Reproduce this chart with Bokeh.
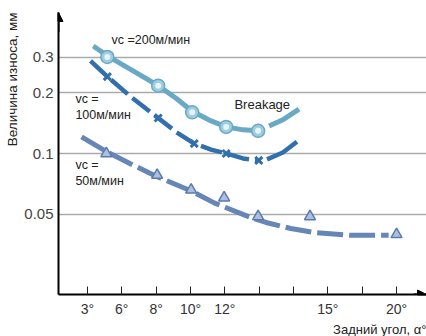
from bokeh.plotting import figure
from bokeh.models import Range1d, FixedTicker, Label, Arrow, NormalHead, Title
from bokeh.embed import file_html
from bokeh.resources import INLINE

# ---- data (x in tick-index units; tick i carries tick_labels[i]) ----
tick_pos = [0, 1, 2, 3, 4, 5, 6, 7, 8, 9]
tick_labels = ["3°", "6°", "8°", "10°", "12°", "", "", "15°", "", "20°"]
y_ticks = [0.05, 0.1, 0.2, 0.3, 0.5]
y_tick_labels = ["0.05", "0.1", "0.2", "0.3", ""]

# vc = 200 m/min (circles)
x200 = [0.58, 2.06, 3.05, 4.04, 4.97]
y200 = [0.301, 0.217, 0.160, 0.1355, 0.1295]
cx200 = [0.17, 0.58, 1.28, 2.06, 2.58, 3.05, 3.60, 4.04, 4.53, 4.97]
cy200 = [0.341, 0.305, 0.260, 0.217, 0.188, 0.162, 0.145, 0.1355, 0.131, 0.1295]
bx200 = [5.29, 5.72, 6.16]
by200 = [0.137, 0.148, 0.166]

# vc = 100 m/min (crosses)
x100 = [0.58, 2.06, 3.11, 4.04, 4.99]
y100 = [0.2405, 0.150, 0.112, 0.100, 0.0924]
cx100 = [0.09, 0.58, 1.28, 2.06, 2.58, 3.11, 3.60, 4.04, 4.53, 4.99]
cy100 = [0.288, 0.2405, 0.190, 0.150, 0.128, 0.112, 0.1046, 0.100, 0.0945, 0.0924]
bx100 = [5.23, 5.69, 6.10]
by100 = [0.0935, 0.1011, 0.1144]

# vc = 50 m/min (triangles)
x50 = [0.55, 2.03, 3.02, 3.98, 4.97, 6.48, 9.00]
y50 = [0.100, 0.0781, 0.0660, 0.0603, 0.0487, 0.0487, 0.0397]
cx50 = [-0.17, 0.55, 1.28, 2.00, 3.02, 3.69, 4.76, 5.20, 5.92, 6.59, 7.67, 8.77]
cy50 = [0.121, 0.1023, 0.0884, 0.0772, 0.0652, 0.0569, 0.0481, 0.0455, 0.0425, 0.0406, 0.0393, 0.0393]

x_lo, x_hi = -0.842, 9.872
y_lo, y_hi = 0.02, 0.5

c200 = "#6aa9c5"
c100 = "#3270ad"
c50 = "#6686b6"
FONT = "Liberation Sans"

p = figure(width=426, height=336, output_backend="svg", toolbar_location=None,
           y_axis_type="log", x_range=Range1d(x_lo, x_hi), y_range=Range1d(y_lo, y_hi),
           min_border_left=0, min_border_right=0, min_border_top=12, min_border_bottom=0)
p.outline_line_color = None
p.background_fill_color = "white"
p.border_fill_color = "white"

# axes
p.xaxis.ticker = FixedTicker(ticks=tick_pos)
p.xaxis.major_label_overrides = {t: l for t, l in zip(tick_pos, tick_labels)}
p.xaxis.major_tick_in = 8
p.xaxis.major_tick_out = 0
p.xaxis.minor_tick_line_color = None
p.xaxis.axis_line_width = 2
p.xaxis.axis_line_color = "black"
p.xaxis.major_tick_line_color = "#222"
p.xaxis.major_label_standoff = 6
p.xaxis.major_label_text_font = FONT
p.xaxis.major_label_text_font_size = "14px"
p.xaxis.major_label_text_color = "#333"

p.yaxis.ticker = FixedTicker(ticks=y_ticks)
p.yaxis.major_label_overrides = {t: l for t, l in zip(y_ticks, y_tick_labels)}
p.yaxis.major_tick_in = 0
p.yaxis.major_tick_out = 0
p.yaxis.minor_tick_line_color = None
p.yaxis.axis_line_width = 2
p.yaxis.axis_line_color = "black"
p.yaxis.major_label_standoff = 5
p.yaxis.major_label_text_font = FONT
p.yaxis.major_label_text_font_size = "15px"
p.yaxis.major_label_text_color = "#444"

p.xgrid.grid_line_color = None
p.ygrid.grid_line_color = "#aaaaaa"
p.ygrid.grid_line_width = 1.5

# curves
p.line(cx200, cy200, line_color=c200, line_width=5)
p.line(bx200, by200, line_color=c200, line_width=5)
p.line(cx100, cy100, line_color=c100, line_width=4.5, line_dash="22 6")
p.line(bx100, by100, line_color=c100, line_width=4.5)
p.line(cx50, cy50, line_color=c50, line_width=5, line_dash="26 6")

# markers
p.scatter(x200, y200, marker="circle", size=13, fill_color="#9fcde0", line_color=c200, line_width=1.5)
p.scatter(x200, y200, marker="circle", size=6, fill_color="#e6f3f8", line_color=None)
p.scatter(x100, y100, marker="x", size=10, line_color=c100, line_width=3)
p.scatter(x50, y50, marker="triangle", size=11, fill_color="#aebfdc", line_color="#5a7bb0", line_width=1.5)

# axis arrows
p.add_layout(Arrow(end=NormalHead(size=9, fill_color="black", line_color="black"),
                   x_start=x_lo, y_start=0.4, x_end=x_lo, y_end=y_hi,
                   line_color="black", line_width=2))
p.add_layout(Arrow(end=NormalHead(size=9, fill_color="black", line_color="black"),
                   x_start=9.5, y_start=y_lo, x_end=x_hi, y_end=y_lo,
                   line_color="black", line_width=2))

def lab(x, y, t, size="12.5px", **kw):
    p.add_layout(Label(x=x, y=y, text=t, text_font=FONT, text_font_size=size,
                       text_color="#222", text_baseline="middle", **kw))

lab(0.70, 0.365, "vc =200м/мин")
lab(-0.35, 0.186, "vc =")
lab(-0.35, 0.155, "100м/мин")
lab(-0.35, 0.0873, "vc =")
lab(-0.35, 0.0730, "50м/мин")
lab(4.28, 0.1755, "Breakage", size="13px", background_fill_color="white")

# axis titles
p.add_layout(Title(text="Величина износа, мм", align="right", text_font=FONT,
                   text_font_size="13.5px", text_font_style="normal", text_color="#222",
                   standoff=4), "left")
p.add_layout(Title(text="Задний угол, α°", align="right", text_font=FONT,
                   text_font_size="13px", text_font_style="normal", text_color="#222",
                   standoff=0), "below")

open("out.html", "w").write(file_html(p, INLINE))
